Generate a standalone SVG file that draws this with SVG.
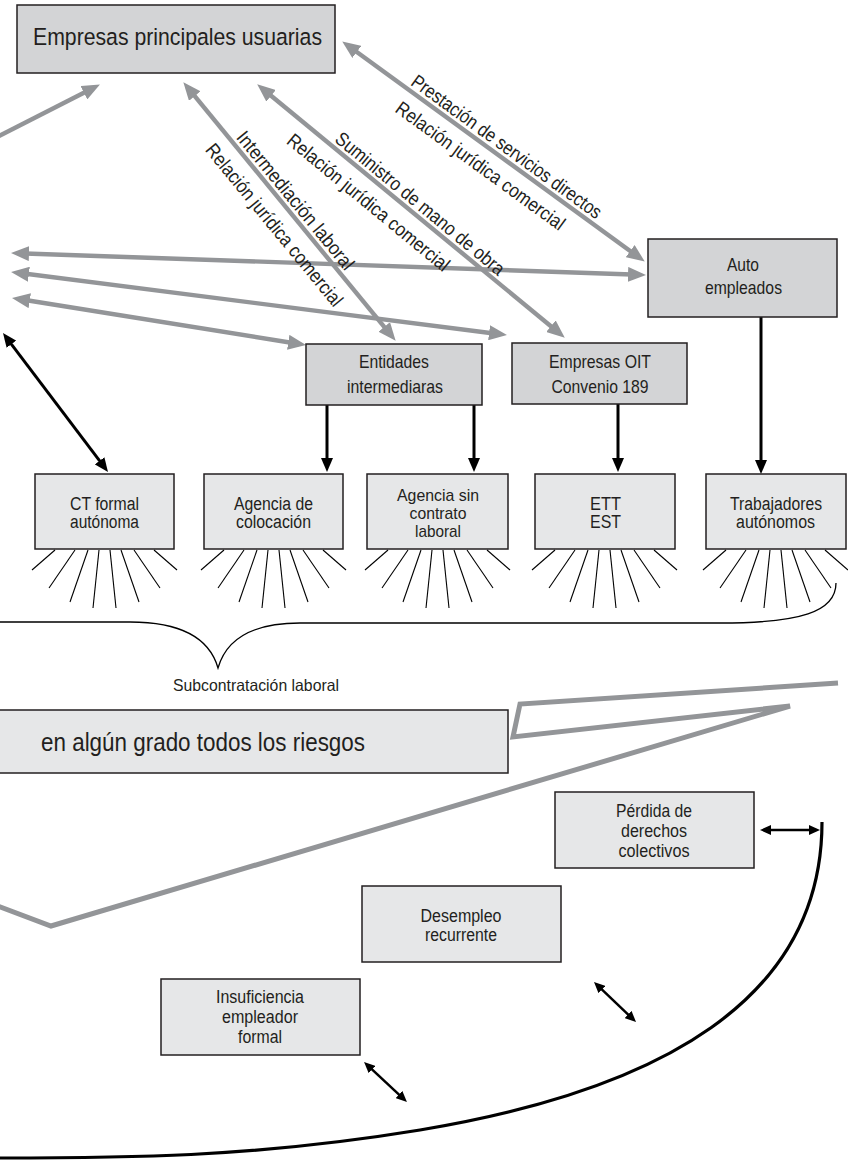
<svg xmlns="http://www.w3.org/2000/svg" width="848" height="1160" viewBox="0 0 848 1160">
  <style>
    .t { font-family: "Liberation Sans", Arial, sans-serif; fill: #231f20; }
    .box-d { fill: #d3d4d6; stroke: #231f20; stroke-width: 1.5; }
    .box-l { fill: #e6e7e8; stroke: #231f20; stroke-width: 1.5; }
    .gl { fill: none; stroke: #939598; stroke-width: 4.4; }
    .bl { fill: none; stroke: #000; stroke-width: 3; }
    .bs { fill: none; stroke: #000; stroke-width: 2.5; }
    .fan line { stroke: #000; stroke-width: 1.1; }
    .c { text-anchor: middle; }
  </style>
  <defs>
    <marker id="ga" viewBox="0 0 18 15" refX="11" refY="7.5" markerWidth="18" markerHeight="15" markerUnits="userSpaceOnUse" orient="auto-start-reverse">
      <path d="M0,0 L18,7.5 L0,15 z" fill="#939598"/>
    </marker>
    <marker id="ba" viewBox="0 0 14 12" refX="8" refY="6" markerWidth="14" markerHeight="12" markerUnits="userSpaceOnUse" orient="auto-start-reverse">
      <path d="M0,0 L14,6 L0,12 z" fill="#000"/>
    </marker>
    <marker id="bsm" viewBox="0 0 11 10" refX="6" refY="5" markerWidth="11" markerHeight="10" markerUnits="userSpaceOnUse" orient="auto-start-reverse">
      <path d="M0,0 L11,5 L0,10 z" fill="#000"/>
    </marker>
    <!-- fan of short strokes under each lower box; origin = box bottom-left -->
    <g id="fan" class="fan">
      <line x1="20" y1="1" x2="-3" y2="21"/>
      <line x1="40" y1="1" x2="14" y2="39"/>
      <line x1="53" y1="1" x2="35" y2="53"/>
      <line x1="64" y1="1" x2="58" y2="59"/>
      <line x1="75" y1="1" x2="81" y2="59"/>
      <line x1="86" y1="1" x2="104" y2="53"/>
      <line x1="99" y1="1" x2="125" y2="39"/>
      <line x1="119" y1="1" x2="142" y2="21"/>
    </g>
  </defs>

  <rect width="848" height="1160" fill="#fff"/>

  <!-- connectors -->
  <g id="connectors">
    <line class="gl" x1="-5" y1="138" x2="93.7" y2="87.7" marker-end="url(#ga)"/>
    <line class="gl" x1="187.8" y1="87.6" x2="391.2" y2="335.4" marker-start="url(#ga)" marker-end="url(#ga)"/>
    <line class="gl" x1="262.6" y1="88.8" x2="559.4" y2="333.2" marker-start="url(#ga)" marker-end="url(#ga)"/>
    <line class="gl" x1="347.9" y1="45.5" x2="639.1" y2="257.5" marker-start="url(#ga)" marker-end="url(#ga)"/>
    <line class="gl" x1="18" y1="253.2" x2="639" y2="274.8" marker-start="url(#ga)" marker-end="url(#ga)"/>
    <line class="gl" x1="18" y1="272.8" x2="500" y2="334.2" marker-start="url(#ga)" marker-end="url(#ga)"/>
    <line class="gl" x1="18.9" y1="299" x2="299.1" y2="344" marker-start="url(#ga)" marker-end="url(#ga)"/>

    <line class="bl" x1="6.6" y1="337.8" x2="104.4" y2="467.2" marker-start="url(#ba)" marker-end="url(#ba)"/>
    <line class="bl" x1="327" y1="405" x2="327" y2="466" marker-end="url(#ba)"/>
    <line class="bl" x1="474" y1="405" x2="474" y2="466" marker-end="url(#ba)"/>
    <line class="bl" x1="618" y1="404" x2="618" y2="466" marker-end="url(#ba)"/>
    <line class="bl" x1="761" y1="317" x2="761" y2="468" marker-end="url(#ba)"/>

    <!-- brace grouping the subcontracting forms -->
    <path d="M-2,622 L130,622 C185,622 210,640 218,668 C226,640 250,623 300,623 L720,623 C800,623 836,612 836,583" fill="none" stroke="#000" stroke-width="1.3"/>

    <!-- grey zigzag toward the risk box -->
    <polyline points="838,683 520,704 513,737 790,706 51,926 -5,905" fill="none" stroke="#939598" stroke-width="5" stroke-linejoin="miter"/>

    <!-- black arc and the risk arrows -->
    <path d="M822,822 C822,1000 660,1090 420,1130 C250,1158 120,1158 -2,1158" fill="none" stroke="#000" stroke-width="3.2"/>
    <line class="bs" x1="765" y1="830" x2="815" y2="830" marker-start="url(#bsm)" marker-end="url(#bsm)"/>
    <line class="bs" x1="597.6" y1="985.4" x2="632.4" y2="1018.6" marker-start="url(#bsm)" marker-end="url(#bsm)"/>
    <line class="bs" x1="367.7" y1="1065.4" x2="403.3" y2="1098.6" marker-start="url(#bsm)" marker-end="url(#bsm)"/>
  </g>

  <!-- relation labels along the diagonal connectors -->
  <g id="labels" class="t" font-size="19.5">
    <g transform="translate(184,83) rotate(50.6)">
      <text x="75" y="-5" textLength="173" lengthAdjust="spacingAndGlyphs">Intermediación laboral</text>
      <text x="65" y="27" textLength="204" lengthAdjust="spacingAndGlyphs">Relación jurídica comercial</text>
    </g>
    <g transform="translate(258,85) rotate(39.5)">
      <text x="94" y="-5" textLength="213" lengthAdjust="spacingAndGlyphs">Suministro de mano de obra</text>
      <text x="58" y="27" textLength="204" lengthAdjust="spacingAndGlyphs">Relación jurídica comercial</text>
    </g>
    <g transform="translate(343,42) rotate(36)">
      <text x="79" y="-5" textLength="230" lengthAdjust="spacingAndGlyphs">Prestación de servicios directos</text>
      <text x="82" y="26" textLength="204" lengthAdjust="spacingAndGlyphs">Relación jurídica comercial</text>
    </g>
  </g>

  <g id="empresas-usuarias">
    <rect class="box-d" x="17" y="5" width="318" height="68"/>
    <text class="t c" x="177.5" y="45" font-size="24.5" textLength="289" lengthAdjust="spacingAndGlyphs">Empresas principales usuarias</text>
  </g>

  <g id="entidades" class="t c" font-size="18.5">
    <rect class="box-d" x="306" y="344" width="176" height="61"/>
    <text x="394" y="368" textLength="70" lengthAdjust="spacingAndGlyphs">Entidades</text>
    <text x="395" y="393" textLength="96" lengthAdjust="spacingAndGlyphs">intermediaras</text>
  </g>

  <g id="empresas-oit" class="t c" font-size="18.5">
    <rect class="box-d" x="512" y="343" width="175" height="61"/>
    <text x="600" y="368" textLength="102" lengthAdjust="spacingAndGlyphs">Empresas OIT</text>
    <text x="600" y="393" textLength="97" lengthAdjust="spacingAndGlyphs">Convenio 189</text>
  </g>

  <g id="auto-empleados" class="t c" font-size="19">
    <rect class="box-d" x="648" y="239" width="189" height="78"/>
    <text x="743" y="271" textLength="32" lengthAdjust="spacingAndGlyphs">Auto</text>
    <text x="743.5" y="294" textLength="77" lengthAdjust="spacingAndGlyphs">empleados</text>
  </g>

  <g id="ct-formal" class="t c" font-size="18">
    <rect class="box-l" x="35" y="474" width="139" height="75"/>
    <text x="104.5" y="509.5" textLength="69" lengthAdjust="spacingAndGlyphs">CT formal</text>
    <text x="104.5" y="528" textLength="69" lengthAdjust="spacingAndGlyphs">autónoma</text>
    <use href="#fan" transform="translate(35,549)"/>
  </g>

  <g id="agencia-colocacion" class="t c" font-size="18">
    <rect class="box-l" x="204" y="474" width="139" height="75"/>
    <text x="273.5" y="509.5" textLength="79" lengthAdjust="spacingAndGlyphs">Agencia de</text>
    <text x="273.5" y="528" textLength="75" lengthAdjust="spacingAndGlyphs">colocación</text>
    <use href="#fan" transform="translate(204,549)"/>
  </g>

  <g id="agencia-sin-contrato" class="t c" font-size="17">
    <rect class="box-l" x="367" y="474" width="141" height="75"/>
    <text x="438" y="500.5" textLength="82" lengthAdjust="spacingAndGlyphs">Agencia sin</text>
    <text x="438" y="518.5" textLength="57" lengthAdjust="spacingAndGlyphs">contrato</text>
    <text x="438" y="536.5" textLength="46" lengthAdjust="spacingAndGlyphs">laboral</text>
    <use href="#fan" transform="translate(368,549)"/>
  </g>

  <g id="ett-est" class="t c" font-size="18">
    <rect class="box-l" x="535" y="474" width="140" height="75"/>
    <text x="605.5" y="509.5" textLength="31" lengthAdjust="spacingAndGlyphs">ETT</text>
    <text x="605.5" y="528" textLength="31" lengthAdjust="spacingAndGlyphs">EST</text>
    <use href="#fan" transform="translate(535,549)"/>
  </g>

  <g id="trabajadores-autonomos" class="t c" font-size="18">
    <rect class="box-l" x="706" y="474" width="140" height="75"/>
    <text x="776" y="509.5" textLength="92" lengthAdjust="spacingAndGlyphs">Trabajadores</text>
    <text x="775.5" y="528" textLength="79" lengthAdjust="spacingAndGlyphs">autónomos</text>
    <use href="#fan" transform="translate(706,549)"/>
  </g>

  <g id="subcontratacion">
    <text class="t c" x="256" y="691" font-size="16.5" textLength="166" lengthAdjust="spacingAndGlyphs">Subcontratación laboral</text>
  </g>

  <g id="riesgos">
    <rect class="box-l" x="-2" y="710" width="510" height="63"/>
    <text class="t" x="41" y="751" font-size="25.5" textLength="324" lengthAdjust="spacingAndGlyphs">en algún grado todos los riesgos</text>
  </g>

  <g id="perdida-derechos" class="t c" font-size="17.5">
    <rect class="box-l" x="555" y="792" width="199" height="76"/>
    <text x="654" y="817" textLength="76" lengthAdjust="spacingAndGlyphs">Pérdida de</text>
    <text x="654" y="837" textLength="66" lengthAdjust="spacingAndGlyphs">derechos</text>
    <text x="654" y="857" textLength="71" lengthAdjust="spacingAndGlyphs">colectivos</text>
  </g>

  <g id="desempleo" class="t c" font-size="17.5">
    <rect class="box-l" x="362" y="886" width="199" height="76"/>
    <text x="461" y="922" textLength="81" lengthAdjust="spacingAndGlyphs">Desempleo</text>
    <text x="461" y="941" textLength="72" lengthAdjust="spacingAndGlyphs">recurrente</text>
  </g>

  <g id="insuficiencia" class="t c" font-size="17.5">
    <rect class="box-l" x="161" y="979" width="199" height="76"/>
    <text x="260" y="1003" textLength="88" lengthAdjust="spacingAndGlyphs">Insuficiencia</text>
    <text x="260" y="1023" textLength="76" lengthAdjust="spacingAndGlyphs">empleador</text>
    <text x="260" y="1043" textLength="44" lengthAdjust="spacingAndGlyphs">formal</text>
  </g>
</svg>
